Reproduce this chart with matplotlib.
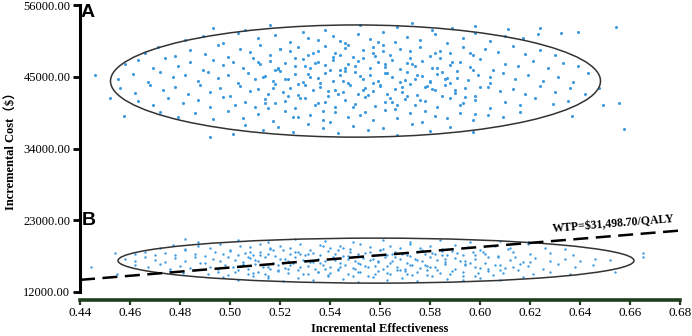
import math
import matplotlib
matplotlib.use("Agg")
import matplotlib.pyplot as plt
from matplotlib.patches import Ellipse

plt.rcParams['font.family'] = ['Liberation Serif', 'Noto Sans CJK SC', 'DejaVu Sans']

# ---------------- data ----------------
eff_a = [
 0.493,0.516,0.538,0.552,0.567,0.581,0.598,0.611,0.624,0.506,0.573,0.589,0.6544,0.6392,0.6324,
 0.482,0.489,0.497,0.503,0.511,0.518,0.524,0.529,0.535,0.541,0.546,0.551,0.556,0.561,0.566,0.571,0.576,0.582,0.587,0.593,0.598,0.604,0.610,0.617,0.623,0.544,0.531,0.559,
 0.466,0.471,0.478,0.484,0.490,0.495,0.499,0.504,0.508,0.512,0.516,0.520,0.524,0.527,0.531,0.535,0.538,0.542,0.546,0.549,0.553,0.557,0.561,0.564,0.568,0.572,0.576,0.580,0.584,0.588,0.593,0.597,0.602,0.607,0.613,0.618,0.624,0.630,0.557,0.541,
 0.458,0.463,0.469,0.474,0.479,0.484,0.489,0.493,0.497,0.501,0.505,0.509,0.512,0.516,0.519,0.522,0.526,0.529,0.532,0.535,0.538,0.541,0.544,0.547,0.550,0.553,0.556,0.559,0.562,0.565,0.568,0.571,0.574,0.577,0.581,0.584,0.588,0.592,0.596,0.600,0.605,0.610,0.615,0.621,0.627,0.633,0.639,0.546,
 0.446,0.455,0.461,0.467,0.472,0.477,0.482,0.487,0.491,0.495,0.499,0.503,0.507,0.510,0.514,0.517,0.520,0.523,0.526,0.529,0.532,0.535,0.538,0.541,0.544,0.547,0.550,0.553,0.556,0.559,0.562,0.565,0.568,0.571,0.574,0.577,0.580,0.583,0.587,0.591,0.595,0.599,0.604,0.609,0.614,0.619,0.625,0.631,0.637,0.643,
 0.456,0.462,0.468,0.473,0.478,0.483,0.488,0.492,0.496,0.500,0.504,0.508,0.511,0.515,0.518,0.521,0.524,0.527,0.530,0.533,0.536,0.539,0.542,0.545,0.548,0.551,0.554,0.557,0.560,0.563,0.566,0.569,0.572,0.575,0.578,0.582,0.586,0.590,0.594,0.598,0.603,0.608,0.613,0.618,0.624,0.630,0.636,0.642,0.6476,0.585,
 0.452,0.463,0.469,0.475,0.481,0.487,0.492,0.497,0.502,0.506,0.510,0.514,0.518,0.522,0.526,0.530,0.534,0.538,0.542,0.546,0.550,0.554,0.558,0.562,0.566,0.570,0.574,0.578,0.583,0.588,0.593,0.598,0.604,0.610,0.616,0.622,0.629,0.635,0.6492,0.6556,
 0.4576,0.472,0.479,0.486,0.493,0.499,0.505,0.511,0.517,0.522,0.527,0.532,0.537,0.542,0.547,0.552,0.557,0.562,0.567,0.572,0.577,0.582,0.587,0.592,0.597,0.603,0.609,0.616,0.6368,0.540,
 0.506,0.513,0.519,0.525,0.531,0.537,0.543,0.549,0.555,0.561,0.567,0.573,0.580,0.588,0.597,0.6576,0.492,0.501,
 0.513,0.519,0.527,0.534,0.543,0.552,0.558,0.565,0.573,0.579,0.586,0.594,
 0.515,0.523,0.531,0.537,0.545,0.551,0.560,0.567,0.575,0.582,0.590,0.597,
 0.511,0.520,0.528,0.536,0.547,0.555,0.562,0.570,0.578,0.585,0.592,0.600,
 0.517,0.525,0.533,0.540,0.549,0.557,0.564,0.572,0.581,0.588,0.596,0.604,
 0.514,0.522,0.530,0.539,0.546,0.554,0.561,0.569,0.576,0.583,0.591,0.598,
 0.518,0.526,0.535,0.544,0.553,0.563,0.571,0.580,0.589,
]
cost_a = [
 52400,52900,52200,53000,52600,52100,52800,52300,52500,52100,53200,52400,52630,51860,51700,
 50600,51300,50200,51700,50900,51400,50300,51800,50700,51200,50100,51600,50800,51900,50400,51100,50600,51500,50200,51000,51700,50500,51300,50900,51600,50500,51000,50300,
 48700,49500,48200,49100,48500,49800,48100,49300,48800,49900,48400,49200,48900,49600,48300,49000,49700,48600,49400,48100,49100,48700,49800,48400,49300,48900,49600,48200,49000,48600,49500,48300,49200,48800,49700,48500,49100,48300,49500,48000,
 46900,47500,46300,47800,46700,47200,46100,47600,46800,47300,46400,47900,46900,47400,46200,47100,46600,47700,46300,47200,46800,47500,46100,47000,46600,47800,46400,47300,46900,47600,46200,47100,46700,47400,46300,47900,46800,47200,46500,47700,46100,47000,46600,47400,46300,47100,46700,46300,
 45200,44600,45400,44200,45800,44900,45300,44400,45700,44800,45200,44100,45600,44700,45100,44300,45900,44600,45400,44200,45000,44800,45600,44400,45300,44100,45800,44700,45200,44400,45500,44900,44200,45700,44600,45100,44300,45400,44800,45900,44500,45200,44100,45600,44700,45300,44400,45000,44200,45500,
 43200,42500,43700,42900,43400,42300,43800,42700,43300,42100,43600,42800,43100,42400,43900,42600,43300,42200,43700,42900,43400,42100,43000,42600,43800,42300,43200,42800,43600,42400,43100,42700,43900,42200,43400,42900,43700,42500,43200,42100,43500,42800,43100,42300,43600,42700,43300,42400,43300,42000,
 41800,41300,40600,41700,40900,41400,40300,41900,40700,41200,40400,41600,40900,41300,40200,41800,40600,41100,40300,41500,40800,41900,40500,41200,40100,41600,40700,41300,40400,41800,40900,41400,40200,41100,40600,41700,40800,41300,40660,40970,
 38980,39600,38900,39400,38500,39800,38700,39300,38200,39700,38900,39200,38400,39600,38800,39100,38300,39900,38600,39400,38100,39000,38700,39500,38400,39200,38800,39600,38980,38000,
 37600,36900,37300,36500,37800,37100,36300,37500,36800,37200,36100,37700,36700,37300,36600,36980,35800,36200,
 44900,46300,43900,47100,42400,45100,48200,41200,46900,43600,44700,41900,
 40200,42100,45400,39700,44300,47400,43800,40700,45200,48600,42900,46100,
 47300,49300,41800,44000,49800,42200,46500,44500,39800,45700,40600,43500,
 43300,38900,48600,46000,40400,44100,41700,47800,43100,44000,48700,45000,
 41000,44700,46700,42800,45900,39600,48900,43400,41500,46400,44800,39300,
 46100,47900,40900,48300,43000,45600,42000,44200,47200,
]
eff_b = [
 0.487,0.503,0.515,0.526,0.538,0.549,0.561,0.572,0.584,0.596,0.608,0.619,0.482,
 0.472,0.477,0.482,0.487,0.492,0.496,0.500,0.504,0.508,0.512,0.516,0.520,0.524,0.528,0.532,0.536,0.540,0.544,0.548,0.552,0.556,0.560,0.564,0.568,0.572,0.576,0.580,0.585,0.590,0.595,0.600,0.606,0.612,0.619,0.626,0.634,
 0.462,0.466,0.470,0.474,0.478,0.482,0.486,0.490,0.494,0.497,0.500,0.503,0.506,0.509,0.512,0.515,0.518,0.521,0.524,0.527,0.530,0.533,0.536,0.539,0.542,0.545,0.548,0.551,0.554,0.557,0.560,0.563,0.566,0.569,0.572,0.575,0.578,0.581,0.585,0.589,0.593,0.597,0.602,0.607,0.613,0.620,0.628,0.637,0.454,
 0.458,0.462,0.466,0.470,0.474,0.478,0.482,0.486,0.490,0.493,0.496,0.499,0.502,0.505,0.508,0.511,0.514,0.517,0.520,0.523,0.526,0.529,0.532,0.535,0.538,0.541,0.544,0.547,0.550,0.553,0.556,0.559,0.562,0.565,0.568,0.571,0.574,0.577,0.580,0.583,0.586,0.590,0.594,0.598,0.602,0.607,0.612,0.617,0.622,0.628,0.634,0.640,0.646,0.652,0.6652,
 0.4444,0.462,0.467,0.472,0.476,0.480,0.484,0.488,0.492,0.495,0.498,0.501,0.504,0.507,0.510,0.513,0.516,0.519,0.522,0.525,0.528,0.531,0.534,0.537,0.540,0.543,0.546,0.549,0.552,0.555,0.558,0.561,0.564,0.567,0.570,0.573,0.576,0.579,0.582,0.586,0.590,0.594,0.598,0.603,0.608,0.613,0.619,0.625,0.631,0.638,0.645,0.6652,
 0.4548,0.476,0.481,0.486,0.491,0.495,0.499,0.503,0.507,0.511,0.515,0.519,0.523,0.527,0.531,0.535,0.539,0.543,0.547,0.551,0.555,0.559,0.563,0.567,0.571,0.575,0.579,0.583,0.588,0.593,0.598,0.603,0.609,0.615,0.621,0.628,0.636,0.654,
 0.497,0.503,0.509,0.515,0.521,0.527,0.533,0.539,0.545,0.551,0.557,0.563,0.569,0.575,0.581,0.587,0.593,0.600,0.608,0.617,
 0.505,0.512,0.519,0.526,0.533,0.540,0.547,0.554,0.561,0.568,0.575,0.582,0.589,0.596,0.603,0.610,
 0.508,0.515,0.522,0.529,0.536,0.543,0.550,0.557,0.564,0.571,0.578,0.585,0.592,0.599,0.606,0.614,
 0.502,0.510,0.517,0.524,0.531,0.538,0.545,0.552,0.559,0.566,0.573,0.580,0.587,0.594,0.601,0.608,
 0.507,0.514,0.521,0.528,0.535,0.542,0.549,0.556,0.563,0.570,0.577,0.584,0.591,0.598,0.605,0.616,
 0.509,0.516,0.523,0.530,0.537,0.544,0.551,0.558,0.565,0.572,0.579,0.586,0.593,0.600,0.611,0.620,
]
cost_b = [
 19600,19900,19700,20100,19800,19600,20000,19700,19900,19600,19800,19600,20100,
 18700,19200,18600,19000,18800,19400,18500,19100,18900,19300,18600,19000,18700,19400,18500,19200,18800,19000,18600,19300,18900,18500,19100,18700,19400,18800,19000,18600,19200,18900,18500,19100,18700,19300,18800,18600,
 17800,18200,17600,18000,17700,18400,17900,17500,18100,17800,18300,17600,18000,17700,18200,17900,17500,18400,17800,18100,17600,18000,17700,18300,17900,17500,18200,17800,18000,17600,18400,17700,18100,17900,17500,18200,17800,18000,17600,18300,17700,18100,17900,17500,18200,17800,18000,17600,17960,
 17000,16700,17300,16900,16600,17200,16800,17400,16500,17100,16700,17300,16900,16600,17200,16800,17400,16500,17000,16700,17300,16900,16600,17100,16800,17400,16500,17000,16700,17200,16900,16600,17300,16800,17100,16500,17000,16700,17400,16900,16600,17200,16800,17100,16500,17300,16900,16600,17200,16800,17000,16700,17100,16900,17350,
 15820,16100,15800,16300,15600,16000,15700,16400,15900,15500,16200,15800,16000,15600,16300,15900,15500,16100,15700,16400,15800,16000,15600,16200,15900,15500,16100,15700,16300,15800,16000,15600,16400,15900,15500,16200,15700,16000,15800,16300,15600,16100,15900,15500,16200,15800,16000,15600,16300,15900,16100,17960,
 14740,15200,14900,15400,14700,15100,14600,15300,14800,15000,14500,15200,14900,15400,14700,15100,14600,15300,14800,15000,14500,15200,14900,15400,14700,15100,14600,15300,14800,15000,14500,15200,14900,15400,14700,15100,14800,15050,
 14300,13900,14400,14100,13700,14200,13800,14400,14000,13600,14300,13900,14100,13700,14400,14000,13800,14200,13900,14300,
 16300,17700,15300,18200,16600,14900,17500,16000,18600,15400,16900,17900,15200,16500,17300,15700,
 18100,15900,17000,14800,16400,18400,15600,17100,14700,17700,16200,18300,16800,14900,16100,17400,
 15100,16900,18500,16100,17800,15500,18800,15000,16700,17400,14600,15900,17600,16300,18100,15300,
 17300,14700,16500,17900,15100,16900,14400,18200,16000,15200,18500,14900,18000,17700,14600,16300,
 14900,18800,15600,16800,19000,15800,16400,14800,17800,16100,15300,17100,14400,15700,18600,16600,
]
# confidence ellipses: (center eff, center cost, half-width eff, half-height cost)
ellipse_a = (0.5502, 44340, 0.0980, 8600)
ellipse_b = (0.5584, 16810, 0.1032, 3450)
wtp = 31498.70
x_ticks = [0.44, 0.46, 0.48, 0.50, 0.52, 0.54, 0.56, 0.58, 0.60, 0.62, 0.64, 0.66, 0.68]
y_ticks = [12000, 23000, 34000, 45000, 56000]

# ---------------- figure ----------------
fig = plt.figure(figsize=(6.92, 3.36), dpi=100)
ax = fig.add_axes([80/692, 1-292/336, 600/692, 287/336])
ax.set_xlim(0.44, 0.68)
ax.set_ylim(12000, 56000)

dot = '#3d9be0'
ax.scatter(eff_a, cost_a, s=5, color=dot, linewidths=0, zorder=2)
ax.scatter(eff_b, cost_b, s=3, color=dot, linewidths=0, zorder=2)

for cx, cy, hw, hh in (ellipse_a, ellipse_b):
    ax.add_patch(Ellipse((cx, cy), 2*hw, 2*hh, fill=False, edgecolor='#333333', lw=1.1, zorder=3))

lx = [0.44, 0.68]
ax.plot(lx, [wtp*v for v in lx], color='black', lw=1.8, dashes=(6, 3), zorder=4)

for s in ('top', 'right'):
    ax.spines[s].set_visible(False)
ax.spines['left'].set_linewidth(2.2)
ax.spines['left'].set_color('black')
ax.spines['bottom'].set_linewidth(2.6)
ax.spines['bottom'].set_color('#1f3f1f')
ax.spines['bottom'].set_position(('outward', 6))

ax.set_xticks(x_ticks)
ax.set_xticklabels([f'{v:.2f}' for v in x_ticks])
ax.set_yticks(y_ticks)
ax.set_yticklabels([f'{v:.2f}' for v in y_ticks])
ax.tick_params(axis='x', direction='out', length=3.5, width=1.6, color='#1f3f1f', labelsize=9.5, pad=1.5)
ax.tick_params(axis='y', direction='out', length=5, width=2, color='black', labelsize=9, pad=2)

ax.set_xlabel('Incremental Effectiveness', fontsize=9, fontweight='bold', labelpad=3)
ax.set_ylabel('Incremental Cost（$）', fontsize=9, fontweight='bold', labelpad=4)

fig.canvas.draw()
p1 = ax.transData.transform((0.44, wtp*0.44))
p2 = ax.transData.transform((0.68, wtp*0.68))
ang = math.degrees(math.atan2(p2[1]-p1[1], p2[0]-p1[0]))
ax.text(0.6292, 20650, 'WTP=$31,498.70/QALY', fontsize=8.5, fontweight='bold',
        rotation=ang, rotation_mode='anchor', ha='left', va='bottom', zorder=5)

fig.text(81/692, 1-4/336, 'A', family='Liberation Sans', fontweight='bold', fontsize=14, ha='left', va='top')
fig.text(82/692, 1-212/336, 'B', family='Liberation Sans', fontweight='bold', fontsize=14, ha='left', va='top')

fig.savefig('out.png', dpi=100)
